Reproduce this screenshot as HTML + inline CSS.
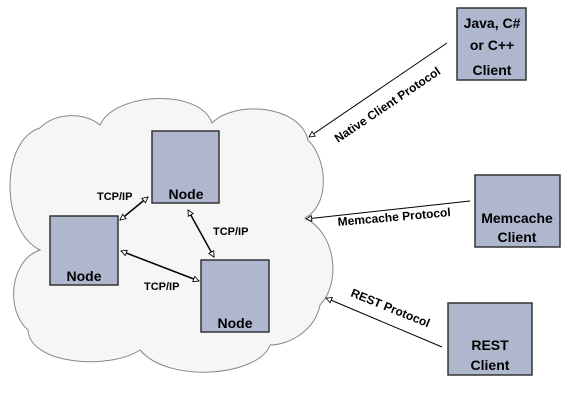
<!DOCTYPE html>
<html><head><meta charset="utf-8"><style>
html,body{margin:0;padding:0;background:#fff}
svg{display:block}
text{font-family:"Liberation Sans",Arial,sans-serif;font-weight:bold;fill:#000}
</style></head><body>
<svg width="579" height="402" viewBox="0 0 579 402" xmlns="http://www.w3.org/2000/svg">
<defs>
<marker id="a" viewBox="0 0 10 10" refX="9" refY="5" markerWidth="7" markerHeight="7" orient="auto-start-reverse" markerUnits="userSpaceOnUse">
<path d="M1,1 L9,5 L1,9 Z" fill="#fff" stroke="#000" stroke-width="1.2"/>
</marker>
</defs>
<path d="M100,125 C115,92 200,88 212,123 C235,100 300,105 308,140 C328,160 330,205 305,218 C338,235 340,285 320,305 C315,330 290,345 270,345 C260,375 170,385 140,350 C110,370 30,365 28,330 C5,310 10,260 40,250 C0,230 0,140 40,128 C55,112 85,112 100,125 Z" fill="#f6f6f6" stroke="#888" stroke-width="1"/>
<g fill="#afb7cf" stroke="#333" stroke-width="1.5">
<rect x="152" y="131" width="67" height="72"/>
<rect x="50" y="216" width="68" height="69"/>
<rect x="201" y="260" width="68" height="72"/>
<rect x="457" y="8" width="69" height="72"/>
<rect x="475" y="175" width="85" height="72"/>
<rect x="448" y="303" width="84" height="72"/>
</g>
<g stroke="#000" stroke-width="1.5" fill="none">
<line x1="148" y1="197" x2="120" y2="220" marker-start="url(#a)" marker-end="url(#a)"/>
<line x1="188" y1="210" x2="214" y2="257" marker-start="url(#a)" marker-end="url(#a)"/>
<line x1="121" y1="251" x2="199" y2="281" marker-start="url(#a)" marker-end="url(#a)"/>
</g>
<g stroke="#000" stroke-width="1" fill="none">
<line x1="447" y1="43" x2="309" y2="137" marker-end="url(#a)"/>
<line x1="470" y1="201" x2="306" y2="219" marker-end="url(#a)"/>
<line x1="442" y1="347" x2="326" y2="298" marker-end="url(#a)"/>
</g>
<g font-size="14" text-anchor="middle">
<text x="186" y="199">Node</text>
<text x="84" y="281">Node</text>
<text x="235" y="328">Node</text>
<text x="492" y="28">Java, C#</text>
<text x="492" y="50">or C++</text>
<text x="492" y="75">Client</text>
<text x="517" y="223">Memcache</text>
<text x="517" y="242">Client</text>
<text x="490" y="350">REST</text>
<text x="490" y="370">Client</text>
</g>
<g font-size="11">
<text x="97" y="200">TCP/IP</text>
<text x="213" y="235">TCP/IP</text>
<text x="144" y="290">TCP/IP</text>
</g>
<g font-size="12">
<text transform="translate(338,143) rotate(-34)">Native Client Protocol</text>
<text transform="translate(338,226) rotate(-5)">Memcache Protocol</text>
<text transform="translate(350,296) rotate(22)">REST Protocol</text>
</g>
</svg>
</body></html>
